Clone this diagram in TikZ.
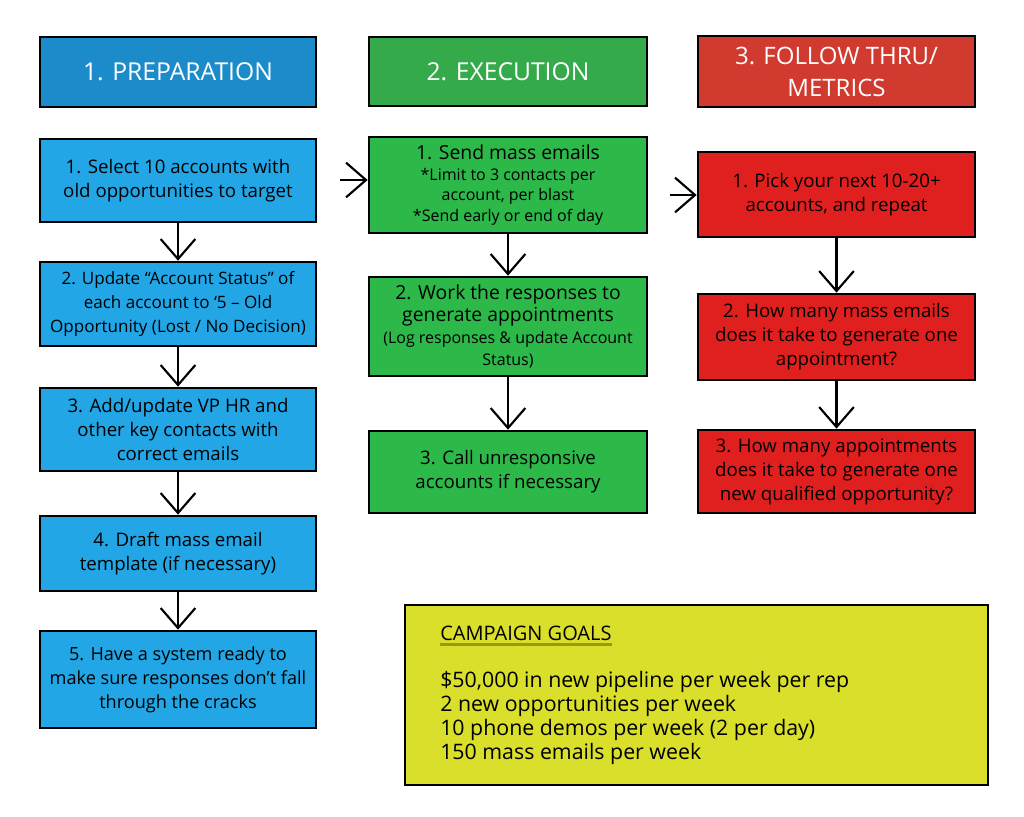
\documentclass[tikz,border=0pt]{standalone}
\usepackage{fontspec}
\setmainfont{Open Sans}
\usetikzlibrary{arrows.meta,positioning}
\definecolor{hblue}{HTML}{1B8CC9}
\definecolor{bblue}{HTML}{22A6E6}
\definecolor{hgreen}{HTML}{35AA4A}
\definecolor{bgreen}{HTML}{2DB84A}
\definecolor{hred}{HTML}{D03A2F}
\definecolor{bred}{HTML}{E0201E}
\definecolor{byellow}{HTML}{D9DF2B}
\definecolor{olive}{HTML}{9A9A10}
\tikzset{
  box/.style={draw=black, line width=2pt, inner sep=0pt, align=center,
    font=\fontsize{14}{18}\selectfont, text=black},
  headbox/.style={box, text=white, font=\fontsize{18.5}{24}\selectfont},
  flow/.style={line width=1.6pt, -{Straight Barb[length=15pt,width=26pt,line width=1.6pt]}},
}
\newcommand{\smalltxt}{\fontsize{12}{15.5}\selectfont}
\newcommand{\bigtxt}{\fontsize{14.5}{15.5}\selectfont}
\begin{document}
\begin{tikzpicture}[x=0.75pt,y=-0.75pt]
\useasboundingbox[fill=white] (0,0) rectangle (1024,817);
% headers
\node[headbox, fill=hblue, minimum width=207pt, minimum height=52.5pt] (h1) at (178,72) {\raisebox{-3pt}{1. PREPARATION}};
\node[headbox, fill=hgreen, minimum width=208.5pt, minimum height=51.75pt] (h2) at (508,71.5) {2. EXECUTION};
\node[headbox, fill=hred, minimum width=207.75pt, minimum height=53.25pt, font=\fontsize{18}{24}\selectfont] (h3) at (836.5,71.5) {3. FOLLOW THRU/\\METRICS};
% column 1
\node[box, fill=bblue, minimum width=207pt, minimum height=62.25pt] (b1) at (178,180.5) {1. Select 10 accounts with\\old opportunities to target};
\node[box, fill=bblue, minimum width=207pt, minimum height=63pt, font=\fontsize{12.8}{18}\selectfont] (b2) at (178,304) {2. Update “Account Status” of\\each account to ‘5 – Old\\Opportunity (Lost / No Decision)};
\node[box, fill=bblue, minimum width=207pt, minimum height=62.25pt] (b3) at (178,429.5) {3. Add/update VP HR and\\other key contacts with\\correct emails};
\node[box, fill=bblue, minimum width=207pt, minimum height=56.25pt] (b4) at (178,553.5) {4. Draft mass email\\template (if necessary)};
\node[box, fill=bblue, minimum width=207pt, minimum height=72.75pt, font=\fontsize{13.6}{18}\selectfont] (b5) at (178,679.5) {5. Have a system ready to\\make sure responses don’t fall\\through the cracks};
% column 2
\node[box, fill=bgreen, minimum width=208.5pt, minimum height=72pt, font=\smalltxt] (g1) at (508,185) {{\bigtxt 1. Send mass emails}\\*Limit to 3 contacts per\\account, per blast\\*Send early or end of day};
\node[box, fill=bgreen, minimum width=208.5pt, minimum height=74.25pt, font=\fontsize{12}{16.5}\selectfont] (g2) at (508,326.5) {{\fontsize{14.5}{16.5}\selectfont 2. Work the responses to}\\{\fontsize{14.5}{16.5}\selectfont generate appointments}\\(Log responses \& update Account\\Status)};
\node[box, fill=bgreen, minimum width=208.5pt, minimum height=61.5pt] (g3) at (508,472) {3. Call unresponsive\\accounts if necessary};
% column 3
\node[box, fill=bred, minimum width=207.75pt, minimum height=63.75pt] (r1) at (836.5,194.5) {1. Pick your next 10-20+\\accounts, and repeat};
\node[box, fill=bred, minimum width=207.75pt, minimum height=64.5pt] (r2) at (836.5,337) {2. How many mass emails\\does it take to generate one\\appointment?};
\node[box, fill=bred, minimum width=207.75pt, minimum height=62.25pt] (r3) at (836.5,471.5) {3. How many appointments\\does it take to generate one\\new qualified opportunity?};
% goals
\node[box, fill=byellow, minimum width=437.25pt, minimum height=135pt] (y) at (696.5,695) {};
\node[anchor=base west, inner sep=0pt, font=\fontsize{15}{18}\selectfont] (gt) at (440,640) {CAMPAIGN GOALS};
\draw[olive, line width=1.6pt] ([yshift=-3pt]gt.south west) -- ([yshift=-3pt]gt.south east);
\node[anchor=north west, inner sep=0pt, align=left, font=\fontsize{16}{18}\selectfont] (gl) at (440,671)
  {\$50,000 in new pipeline per week per rep\\2 new opportunities per week\\10 phone demos per week (2 per day)\\150 mass emails per week};
% connectors
\draw[flow] (b1) -- (b2);
\draw[flow] (b2) -- (b3);
\draw[flow] (b3) -- (b4);
\draw[flow] (b4) -- (b5);
\draw[flow] (g1) -- (g2);
\draw[flow] (g2) -- (g3);
\draw[flow] (r1) -- (r2);
\draw[flow] (r2) -- (r3);
\coordinate (c1) at (340,180);
\coordinate (c2) at (670,195);
\draw[flow] (c1) -- (c1 -| g1.west);
\draw[flow] (c2) -- (c2 -| r1.west);
\end{tikzpicture}
\end{document}
